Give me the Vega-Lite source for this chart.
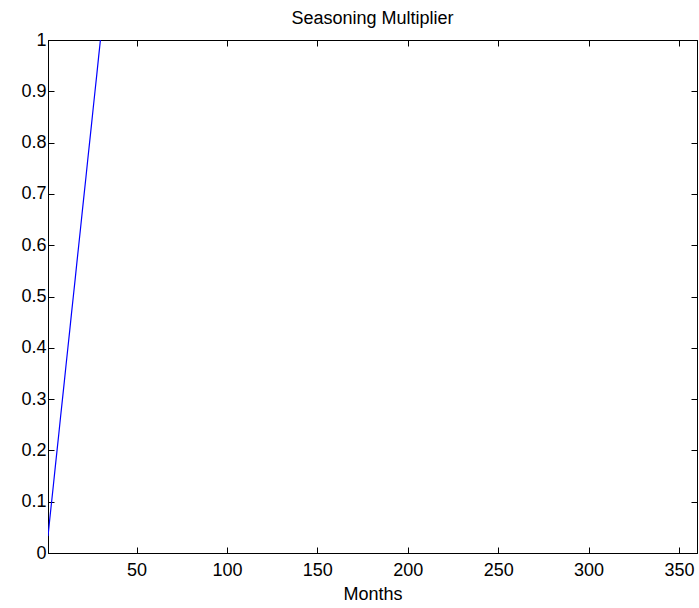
{
  "$schema": "https://vega.github.io/schema/vega-lite/v6.json",
  "width": 649,
  "height": 513,
  "autosize": {"type": "none"},
  "padding": {"left": 48, "top": 40, "right": 2, "bottom": 55},
  "background": "white",
  "title": {"text": "Seasoning Multiplier", "font": "Liberation Sans", "fontSize": 18, "fontWeight": "normal", "color": "black", "anchor": "middle", "offset": -11, "baseline": "alphabetic"},
  "config": {
    "view": {"stroke": "black", "strokeWidth": 1},
    "axis": {"domainColor": "black", "tickColor": "black", "labelColor": "black", "titleColor": "black", "labelFont": "Liberation Sans", "titleFont": "Liberation Sans", "labelFontSize": 18, "titleFontSize": 18, "titleFontWeight": "normal", "grid": false, "zindex": 1}
  },
  "data": {"values": [
    {"month": 1, "mult": 0.033}, {"month": 2, "mult": 0.067}, {"month": 3, "mult": 0.1},
    {"month": 4, "mult": 0.133}, {"month": 5, "mult": 0.167}, {"month": 6, "mult": 0.2},
    {"month": 7, "mult": 0.233}, {"month": 8, "mult": 0.267}, {"month": 9, "mult": 0.3},
    {"month": 10, "mult": 0.333}, {"month": 11, "mult": 0.367}, {"month": 12, "mult": 0.4},
    {"month": 13, "mult": 0.433}, {"month": 14, "mult": 0.467}, {"month": 15, "mult": 0.5},
    {"month": 16, "mult": 0.533}, {"month": 17, "mult": 0.567}, {"month": 18, "mult": 0.6},
    {"month": 19, "mult": 0.633}, {"month": 20, "mult": 0.667}, {"month": 21, "mult": 0.7},
    {"month": 22, "mult": 0.733}, {"month": 23, "mult": 0.767}, {"month": 24, "mult": 0.8},
    {"month": 25, "mult": 0.833}, {"month": 26, "mult": 0.867}, {"month": 27, "mult": 0.9},
    {"month": 28, "mult": 0.933}, {"month": 29, "mult": 0.967}, {"month": 30, "mult": 1}
  ]},
  "layer": [
    {
      "mark": {"type": "line", "color": "#0000ff", "strokeWidth": 1.2, "clip": true},
      "encoding": {
        "x": {"field": "month", "type": "quantitative", "scale": {"domain": [1, 360], "nice": false, "zero": false},
          "axis": {"title": "Months", "values": [50, 100, 150, 200, 250, 300, 350], "tickSize": -6, "labelPadding": 14, "titlePadding": 6, "labelFlush": false}},
        "y": {"field": "mult", "type": "quantitative", "scale": {"domain": [0, 1], "nice": false},
          "axis": {"title": null, "values": [0, 0.1, 0.2, 0.3, 0.4, 0.5, 0.6, 0.7, 0.8, 0.9, 1], "labelExpr": "datum.value === 0 ? '0' : datum.value === 1 ? '1' : format(datum.value, '.1f')", "tickSize": -6, "labelPadding": 8, "labelFlush": false}}
      }
    },
    {
      "mark": {"type": "line", "opacity": 0},
      "encoding": {
        "x": {"field": "month", "type": "quantitative", "axis": {"orient": "top", "title": null, "labels": false, "values": [50, 100, 150, 200, 250, 300, 350], "tickSize": -6}},
        "y": {"field": "mult", "type": "quantitative", "axis": {"orient": "right", "title": null, "labels": false, "values": [0, 0.1, 0.2, 0.3, 0.4, 0.5, 0.6, 0.7, 0.8, 0.9, 1], "tickSize": -6}}
      }
    }
  ],
  "resolve": {"axis": {"x": "independent", "y": "independent"}}
}
